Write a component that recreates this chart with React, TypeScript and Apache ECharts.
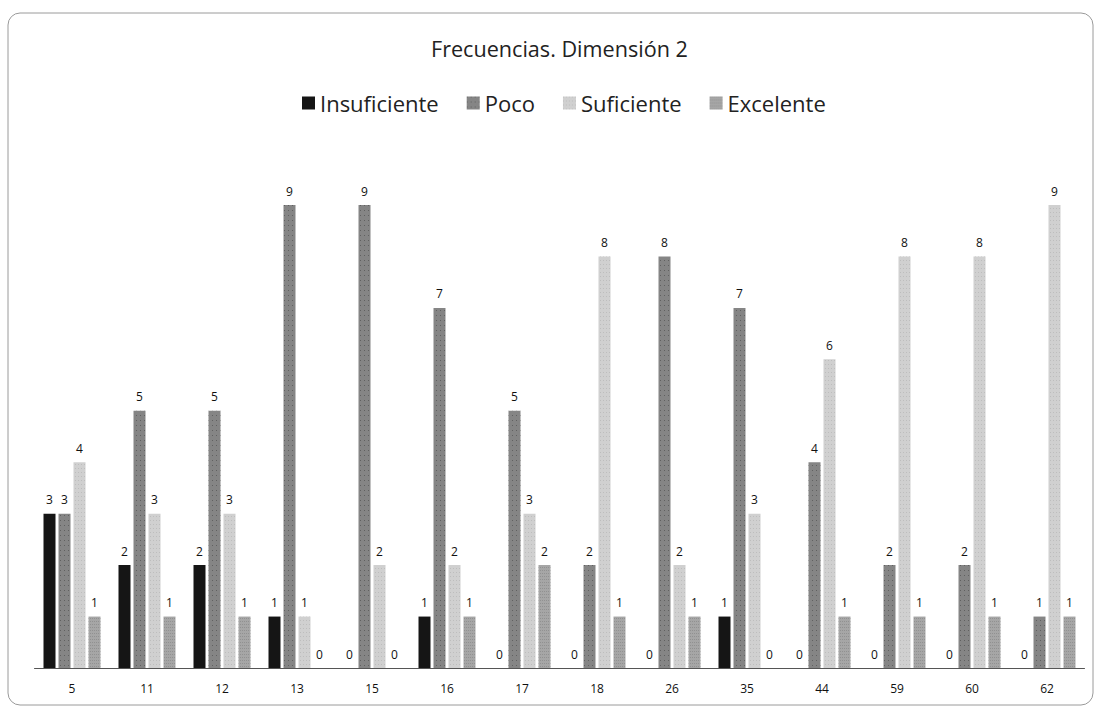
import React, { useEffect, useRef } from "react";
import * as echarts from "echarts";

const categories = ["5", "11", "12", "13", "15", "16", "17", "18", "26", "35", "44", "59", "60", "62"];
const insuficiente = [3, 2, 2, 1, 0, 1, 0, 0, 0, 1, 0, 0, 0, 0];
const poco = [3, 5, 5, 9, 9, 7, 5, 2, 8, 7, 4, 2, 2, 1];
const suficiente = [4, 3, 3, 1, 2, 2, 3, 8, 2, 3, 6, 8, 8, 9];
const excelente = [1, 1, 1, 0, 0, 1, 2, 1, 1, 0, 1, 1, 1, 1];
const seriesNames = ["Insuficiente", "Poco", "Suficiente", "Excelente"];
const titleText = "Frecuencias. Dimensión 2";

const FONT = "'Open Sans', 'DejaVu Sans', sans-serif";

export default function App() {
  const ref = useRef<HTMLDivElement>(null);
  useEffect(() => {
    if (!ref.current) return;
    const chart = echarts.init(ref.current, null, { renderer: "svg" });
    const colors = ["#151515", "#858585", "#d0d0d0", "#a6a6a6"];
    const decals = [
      null,
      { symbol: "rect", symbolSize: 1, color: "rgba(50,50,50,0.45)", dashArrayX: [1, 3], dashArrayY: [1, 4], rotation: 0 },
      { symbol: "rect", symbolSize: 1, color: "rgba(170,170,170,0.5)", dashArrayX: [1, 2], dashArrayY: [1, 3], rotation: 0 },
      { symbol: "rect", symbolSize: 1, color: "rgba(120,120,120,0.45)", dashArrayX: [1, 1], dashArrayY: [1, 2], rotation: 0 },
    ];
    const datas = [insuficiente, poco, suficiente, excelente];
    chart.setOption({
      animation: false,
      backgroundColor: "#ffffff",
      title: {
        text: titleText,
        left: 431,
        top: 37,
        padding: 0,
        textStyle: { fontFamily: FONT, fontSize: 21.6, fontWeight: "normal", color: "#222" },
      },
      legend: {
        data: seriesNames,
        top: 92,
        left: 302,
        padding: 0,
        itemWidth: 13,
        itemHeight: 13,
        itemGap: 28,
        icon: "rect",
        textStyle: { fontFamily: FONT, fontSize: 22, color: "#222" },
      },
      grid: { left: 34.5, right: 14.5, top: 205, bottom: 41 },
      xAxis: {
        type: "category",
        data: categories,
        axisLine: { lineStyle: { color: "#555", width: 1 } },
        axisTick: { show: false },
        axisLabel: { fontFamily: FONT, fontSize: 12, color: "#111", margin: 14 },
      },
      yAxis: {
        type: "value",
        min: 0,
        max: 9,
        show: false,
        splitLine: { show: false },
      },
      graphic: [
        {
          type: "rect",
          shape: { x: 8, y: 13, width: 1085, height: 692, r: 12 },
          style: { fill: "none", stroke: "#9a9a9a", lineWidth: 1 },
          silent: true,
        },
      ],
      series: seriesNames.map((name, i) => ({
        name,
        type: "bar",
        data: datas[i],
        barWidth: 12,
        barGap: "25%",
        itemStyle: Object.assign({ color: colors[i] }, decals[i] ? { decal: decals[i] } : {}),
        label: {
          show: true,
          position: "top",
          distance: 8,
          fontFamily: FONT,
          fontSize: 12,
          color: "#111",
        },
      })),
    });
    return () => chart.dispose();
  }, []);
  return (
    <div
      ref={ref}
      style={{ position: "fixed", left: 0, top: 0, width: 1099, height: 709, background: "#fff" }}
    />
  );
}
